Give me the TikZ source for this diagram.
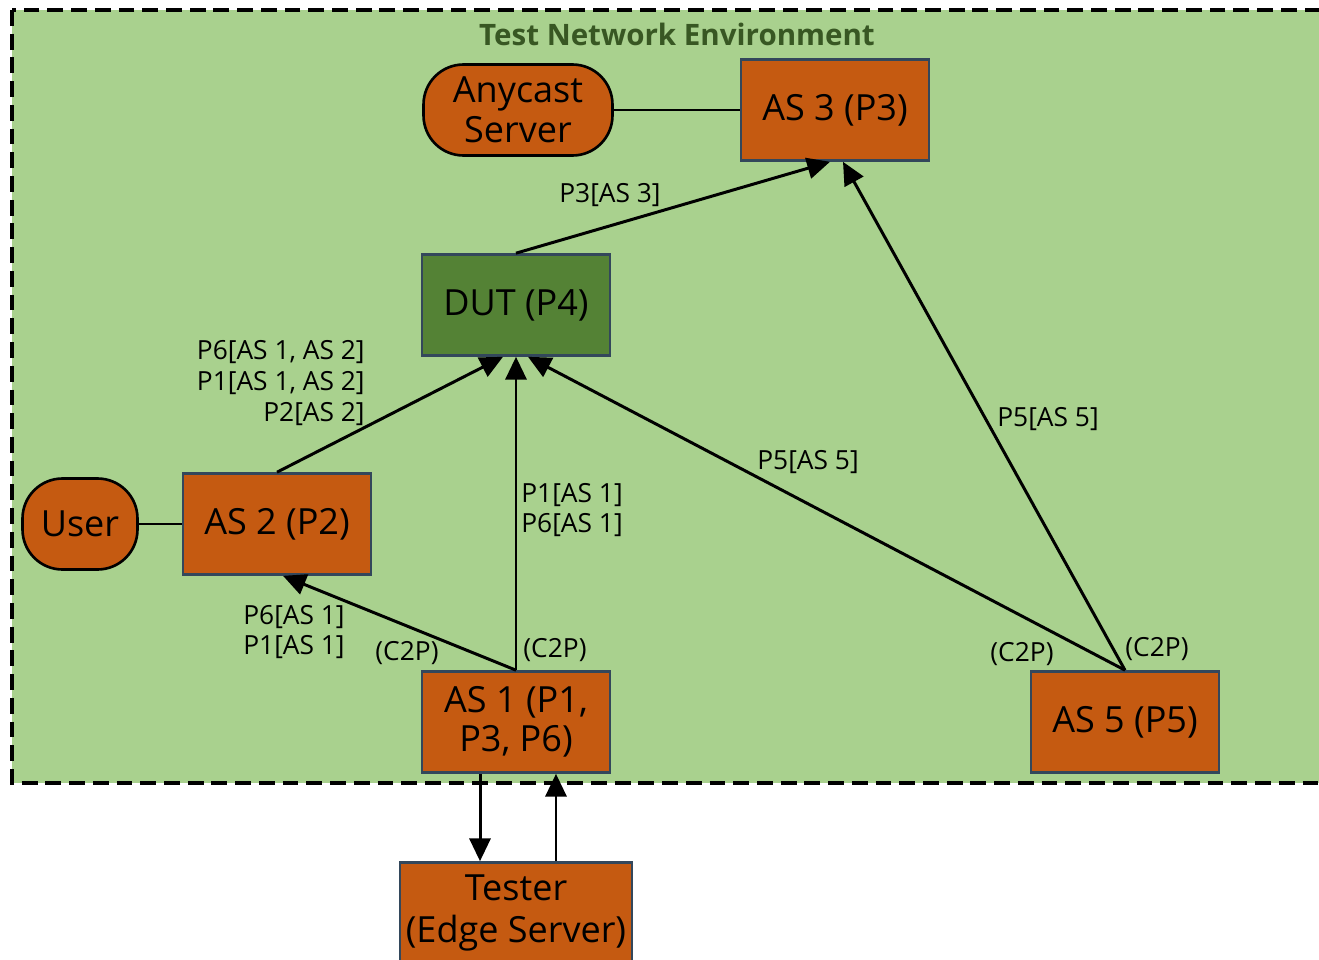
\documentclass[tikz,border=0pt]{standalone}
\usepackage{fontspec}
\setmainfont{Open Sans}
\usetikzlibrary{arrows.meta,positioning,calc}
\definecolor{envgreen}{HTML}{A9D18E}
\definecolor{titlegreen}{HTML}{385723}
\definecolor{dutgreen}{HTML}{548235}
\definecolor{asorange}{HTML}{C55A11}
\definecolor{boxline}{HTML}{33475B}

\begin{document}
\begin{tikzpicture}[x=0.02cm,y=-0.02cm,
  asn/.style={draw=boxline,fill=asorange,line width=1.5pt,minimum width=3.76cm,minimum height=2.02cm,align=center,inner sep=2pt,font=\fontsize{20.5}{22}\selectfont},
  term/.style={draw=black,fill=asorange,line width=1.5pt,rounded corners=0.8cm,minimum height=1.82cm,align=center,inner sep=2pt,font=\fontsize{20.5}{22.5}\selectfont},
  lbl/.style={inner sep=0pt,font=\fontsize{15}{17.6}\selectfont},
  con/.style={line width=1.7pt},
  arr/.style={con,-{Triangle[length=13pt,width=12pt]}}]
  \clip (0,0) rectangle (1319,960);
  % environment frame
  \draw[fill=envgreen,line width=2pt,dash pattern=on 9pt off 4.5pt] (12,10) rectangle (1340,783);
  \node[font=\bfseries\fontsize{16.8}{19}\selectfont,text=titlegreen] (title) at (677,34) {Test Network Environment};

  \node[term,minimum width=3.78cm] (any) at (518,110) {Anycast\\Server};
  \node[asn] (as3) at (835,110) {AS 3 (P3)};
  \node[asn,fill=dutgreen] (dut) at (516,305) {DUT (P4)};
  \node[term,minimum width=2.3cm] (user) at (80,524) {User};
  \node[asn] (as2) at (277,524) {AS 2 (P2)};
  \node[asn] (as1) at (516,722) {AS 1 (P1,\\P3, P6)};
  \node[asn] (as5) at (1125,722) {AS 5 (P5)};
  \node[asn,minimum width=4.64cm,font=\fontsize{20.5}{24}\selectfont] (tester) at (516,913) {Tester\\(Edge Server)};

  \draw[con] (any) -- (as3);
  \draw[con] (user) -- (as2);
  \draw[arr] (dut.north) -- ([xshift=-0.1cm]as3.south);
  \draw[arr] (as5.north) -- ([xshift=0.16cm]as3.south);
  \draw[arr] (as2.north) -- ([xshift=-0.26cm]dut.south);
  \draw[arr] (as1.north) -- (dut.south);
  \draw[arr] (as5.north) -- ([xshift=0.24cm]dut.south);
  \draw[arr] (as1.north) -- ([xshift=0.12cm]as2.south);
  \draw[arr] ([xshift=-0.72cm]as1.south) -- ([xshift=-0.72cm]tester.north);
  \draw[arr] ([xshift=0.8cm]tester.north) -- ([xshift=0.8cm]as1.south);

  \node[lbl] (l3) at (610,195) {P3[AS 3]};
  \node[lbl,align=right,anchor=east] (l2) at (365,383) {P6[AS 1, AS 2]\\P1[AS 1, AS 2]\\P2[AS 2]};
  \node[lbl,align=left,anchor=west] (l1) at (521,510) {P1[AS 1]\\P6[AS 1]};
  \node[lbl] (l5a) at (808,462) {P5[AS 5]};
  \node[lbl] (l5b) at (1048,419) {P5[AS 5]};
  \node[lbl,align=left,anchor=east] (l12) at (345,632) {P6[AS 1]\\P1[AS 1]};
  \node[lbl] (c1) at (407,653) {(C2P)};
  \node[lbl] (c2) at (555,650) {(C2P)};
  \node[lbl] (c3) at (1022,654) {(C2P)};
  \node[lbl] (c4) at (1157,649) {(C2P)};
\end{tikzpicture}
\end{document}
